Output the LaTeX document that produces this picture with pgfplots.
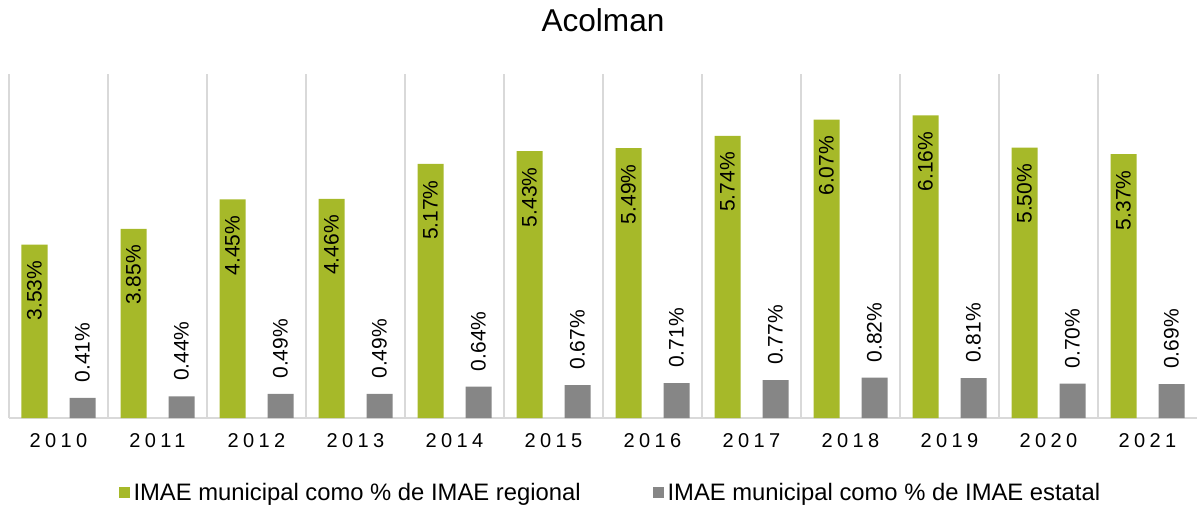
\documentclass[border=0pt]{standalone}
\usepackage{pgfplots}
\pgfplotsset{compat=1.18}
\usepackage{fontspec}
\setmainfont{Liberation Sans}
\definecolor{bargreen}{RGB}{166,185,41}
\definecolor{bargray}{RGB}{134,134,134}
\definecolor{gridgray}{RGB}{217,217,217}
\begin{document}
\begin{tikzpicture}
\begin{axis}[
  scale only axis,
  width=594pt, height=172pt,
  ybar=11pt, bar width=13pt,
  xmin=-0.5, xmax=11.5, ymin=0, ymax=7,
  xtick={0,...,11},
  xticklabels={2010,2011,2012,2013,2014,2015,2016,2017,2018,2019,2020,2021},
  x tick label style={font={\fontsize{10}{12}\selectfont\addfontfeature{LetterSpace=22}}, yshift=-4pt},
  major tick length=0pt,
  minor xtick={-0.5,0.5,...,10.5},
  minor tick length=0pt,
  xminorgrids, minor grid style={draw=gridgray, line width=0.8pt},
  axis y line=none,
  axis x line*=bottom,
  x axis line style={draw=gridgray, line width=0.8pt, -},
  ytick=\empty,
  /pgf/number format/assume math mode=true,
  nodes near coords={\pgfmathprintnumber[fixed,fixed zerofill,precision=2]{\pgfplotspointmeta}\%},
  title={Acolman},
  title style={font={\fontsize{15.8}{18}\selectfont}, at={(0.5,1)}, anchor=center, yshift=21pt},
  legend style={draw=none, at={(0.507,-0.218)}, anchor=center, font={\fontsize{11.9}{14}\selectfont},
    legend columns=2, /tikz/every even column/.append style={column sep=34pt},
    inner sep=0pt},
  legend cell align=left,
  legend image code/.code={\fill[#1] (0pt,-2.75pt) rectangle (5.5pt,2.75pt);},
]
\addplot[fill=bargreen, draw=none,
  every node near coord/.append style={font={\fontsize{10.5}{12}\selectfont}, rotate=90, anchor=east, inner xsep=8pt, inner ysep=0pt, text=black}]
  coordinates {(0,3.53) (1,3.85) (2,4.45) (3,4.46) (4,5.17) (5,5.43) (6,5.49) (7,5.74) (8,6.07) (9,6.16) (10,5.50) (11,5.37)};
\addlegendentry{IMAE municipal como \% de IMAE regional}
\addplot[fill=bargray, draw=none,
  every node near coord/.append style={font={\fontsize{10.5}{12}\selectfont}, rotate=90, anchor=west, inner xsep=7.5pt, inner ysep=0pt, text=black}]
  coordinates {(0,0.41) (1,0.44) (2,0.49) (3,0.49) (4,0.64) (5,0.67) (6,0.71) (7,0.77) (8,0.82) (9,0.81) (10,0.70) (11,0.69)};
\addlegendentry{IMAE municipal como \% de IMAE estatal}
\end{axis}
\pgfresetboundingbox
\path (-4.5pt,-45pt) rectangle (594.5pt,209pt);
\end{tikzpicture}
\end{document}
